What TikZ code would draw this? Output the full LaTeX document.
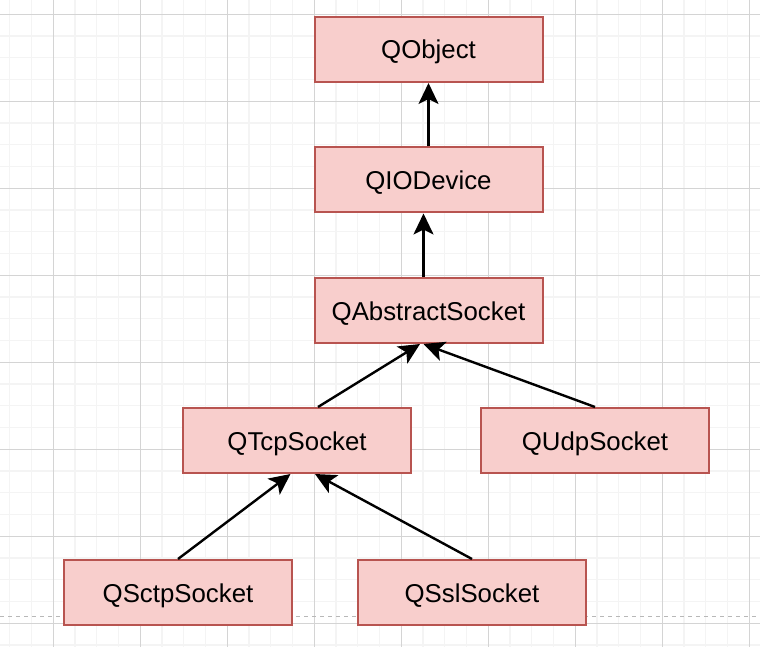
\documentclass[tikz,border=0pt]{standalone}
\usepackage{fontspec}
\setmainfont{Liberation Sans}
\usetikzlibrary{arrows.meta}
\definecolor{boxfill}{HTML}{F8CECC}
\definecolor{boxline}{HTML}{B85450}
\definecolor{gridminor}{HTML}{F4F4F4}
\definecolor{gridmajor}{HTML}{D4D4D4}
\definecolor{dashgray}{HTML}{B8B8B8}
\tikzset{
  cls/.style={draw=boxline, fill=boxfill, line width=2pt, minimum width=228pt, minimum height=65pt,
    inner sep=0pt, font=\fontsize{25.8}{30}\selectfont, text depth=0pt, text height=19pt},
  inherit/.style={draw=black, line width=2.4pt, -{Stealth[length=21pt,width=20pt,inset=5pt]}},
}
\begin{document}
\begin{tikzpicture}[x=1pt,y=-1pt]
\useasboundingbox (0,0) rectangle (760,647);
\fill[white] (0,0) rectangle (760,647);
% minor grid
\foreach \k in {0,...,34} \draw[gridminor, line width=1.2pt] ({9.75+21.75*\k},0) -- ({9.75+21.75*\k},647);
\foreach \k in {-1,...,29} \draw[gridminor, line width=1.2pt] (0,{14.3+21.75*\k}) -- (760,{14.3+21.75*\k});
% major grid
\foreach \k in {0,...,8} \draw[gridmajor, line width=1pt] ({53.3+87*\k},0) -- ({53.3+87*\k},647);
\foreach \k in {0,...,7} \draw[gridmajor, line width=1pt] (0,{14.3+87*\k}) -- (760,{14.3+87*\k});
% dashed page break
\draw[dashgray, line width=1.3pt, dash pattern=on 4pt off 4pt] (0,616.7) -- (760,616.7);

\node[cls] (qobject) at (428.5,49.5) {QObject};
\node[cls] (qiodevice) at (428.5,180) {QIODevice};
\node[cls] (qabstract) at (428.5,310.5) {QAbstractSocket};
\node[cls] (qtcp) at (297,440.5) {QTcpSocket};
\node[cls] (qudp) at (595,440.5) {QUdpSocket};
\node[cls] (qsctp) at (178,592.5) {QSctpSocket};
\node[cls] (qssl) at (472,592.5) {QSslSocket};

\draw[inherit] (qiodevice.north) -- (qobject.south);
\draw[inherit] ([xshift=-5pt]qabstract.north) -- ([xshift=-5pt]qiodevice.south);
\draw[inherit] ([xshift=21pt]qtcp.north) -- ([xshift=-8.5pt]qabstract.south);
\draw[inherit] (qudp.north) -- ([xshift=-5pt]qabstract.south);
\draw[inherit] (qsctp.north) -- ([xshift=-6.5pt]qtcp.north |- qtcp.south);
\draw[inherit] (qssl.north) -- ([xshift=18pt]qtcp.south);
\end{tikzpicture}
\end{document}
